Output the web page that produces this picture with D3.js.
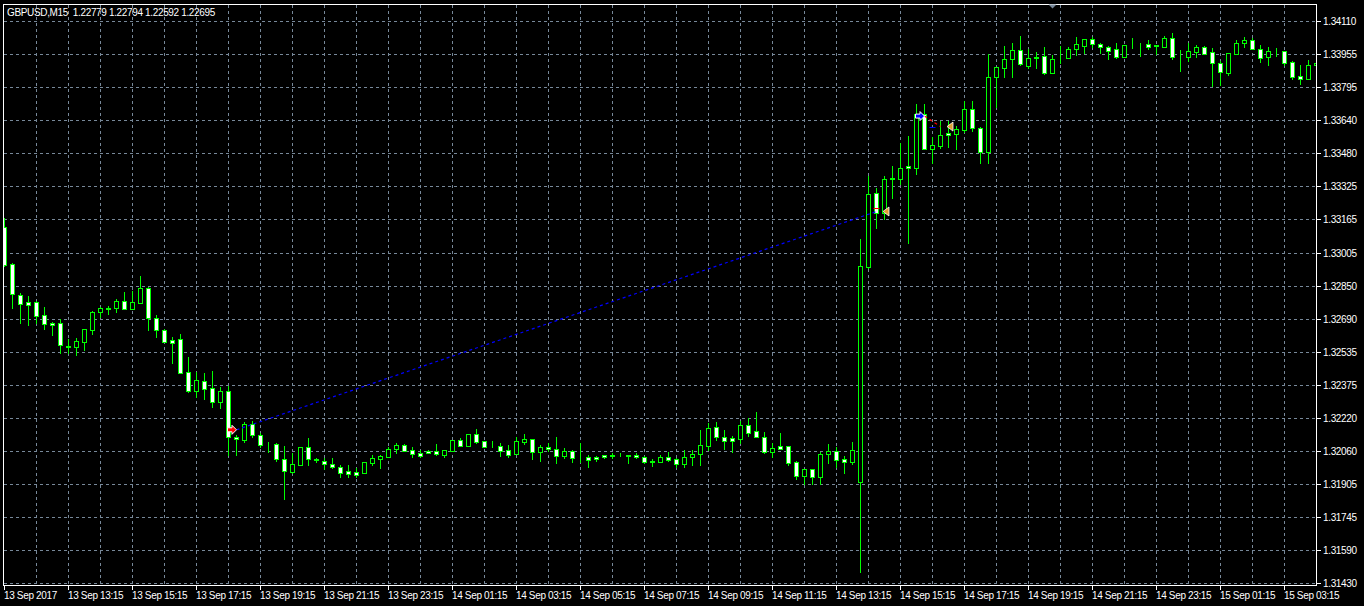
<!DOCTYPE html>
<html><head><meta charset="utf-8">
<script src="https://cdn.jsdelivr.net/npm/d3@7/dist/d3.min.js"></script>
<style>
html,body{margin:0;padding:0;background:#000;overflow:hidden}
svg{display:block}
text{font-family:"Liberation Sans",Arial,sans-serif;font-size:10px;letter-spacing:-0.35px;fill:#fff;white-space:pre}
</style>
</head><body>
<svg id="c" width="1364" height="606"></svg>
<script>
const chartTitle = "GBPUSD,M15  1.22779 1.22794 1.22592 1.22695";

const timeLabels = ["13 Sep 2017","13 Sep 13:15","13 Sep 15:15","13 Sep 17:15","13 Sep 19:15","13 Sep 21:15","13 Sep 23:15","14 Sep 01:15","14 Sep 03:15","14 Sep 05:15","14 Sep 07:15","14 Sep 09:15","14 Sep 11:15","14 Sep 13:15","14 Sep 15:15","14 Sep 17:15","14 Sep 19:15","14 Sep 21:15","14 Sep 23:15","15 Sep 01:15","15 Sep 03:15"];
const timeLabelBar = [0,8,16,24,32,40,48,56,64,72,80,88,96,104,112,120,128,136,144,152,160];

const priceTicks = [1.34110,1.33955,1.33795,1.33640,1.33480,1.33325,1.33165,1.33005,1.32850,1.32690,1.32535,1.32375,1.32220,1.32060,1.31905,1.31745,1.31590,1.31430];

const open = [1.33128,1.32951,1.32803,1.32771,1.32770,1.32708,1.32670,1.32670,1.32560,1.32555,
1.32582,1.32639,1.32722,1.32741,1.32744,1.32775,1.32739,1.32768,1.32838,1.32695,
1.32636,1.32590,1.32594,1.32438,1.32348,1.32395,1.32360,1.32296,1.32345,1.32126,
1.32113,1.32191,1.32136,1.32087,1.32093,1.32021,1.31962,1.31995,1.32078,1.32021,
1.32015,1.31997,1.31983,1.31964,1.31961,1.31957,1.32005,1.32024,1.32034,1.32069,
1.32088,1.32064,1.32050,1.32059,1.32059,1.32043,1.32061,1.32112,1.32086,1.32140,
1.32109,1.32091,1.32087,1.32066,1.32048,1.32105,1.32117,1.32057,1.32080,1.32069,
1.32038,1.32061,1.32031,1.32032,1.32034,1.32040,1.32040,1.32042,1.32040,1.32042,
1.32032,1.32010,1.32007,1.32031,1.32021,1.31997,1.32034,1.32045,1.32086,1.32174,
1.32129,1.32121,1.32118,1.32183,1.32155,1.32129,1.32057,1.32083,1.32083,1.32007,
1.31943,1.31976,1.31938,1.32045,1.32059,1.32022,1.32010,1.31912,1.32940,1.33290,
1.33194,1.33363,1.33359,1.33420,1.33412,1.33667,1.33502,1.33517,1.33576,1.33571,
1.33593,1.33690,1.33600,1.33488,1.33843,1.33886,1.33929,1.33972,1.33898,1.33940,
1.33945,1.33865,1.33936,1.33936,1.33977,1.33994,1.34024,1.34000,1.33986,1.33977,
1.33941,1.33997,1.33997,1.34000,1.33995,1.33989,1.34029,1.33941,1.33941,1.33965,
1.33986,1.33962,1.33910,1.33865,1.33954,1.34005,1.34021,1.33976,1.33938,1.33968,
1.33968,1.33915,1.33848,1.33833,1.33902];

const high = [1.33171,1.32956,1.32813,1.32800,1.32776,1.32749,1.32677,1.32689,1.32594,1.32598,
1.32641,1.32728,1.32749,1.32752,1.32787,1.32819,1.32822,1.32895,1.32843,1.32708,
1.32641,1.32603,1.32619,1.32508,1.32436,1.32433,1.32442,1.32365,1.32373,1.32137,
1.32198,1.32202,1.32147,1.32103,1.32098,1.32085,1.32050,1.32078,1.32121,1.32029,
1.32026,1.32026,1.31993,1.31994,1.31978,1.32008,1.32043,1.32043,1.32081,1.32098,
1.32094,1.32081,1.32066,1.32066,1.32094,1.32067,1.32113,1.32123,1.32140,1.32166,
1.32109,1.32109,1.32099,1.32088,1.32128,1.32143,1.32117,1.32089,1.32100,1.32129,
1.32075,1.32066,1.32098,1.32042,1.32037,1.32040,1.32050,1.32049,1.32044,1.32050,
1.32037,1.32021,1.32042,1.32055,1.32026,1.32066,1.32066,1.32161,1.32193,1.32199,
1.32161,1.32132,1.32202,1.32217,1.32247,1.32151,1.32098,1.32147,1.32083,1.32013,
1.31974,1.31976,1.32057,1.32093,1.32082,1.32037,1.32104,1.33070,1.33372,1.33317,
1.33372,1.33420,1.33528,1.33563,1.33716,1.33716,1.33560,1.33636,1.33634,1.33609,
1.33730,1.33730,1.33605,1.33954,1.33894,1.33994,1.34008,1.34040,1.33978,1.33962,
1.33986,1.33949,1.33994,1.33986,1.34034,1.34026,1.34034,1.34005,1.33994,1.34005,
1.33996,1.34029,1.34005,1.34021,1.33998,1.34040,1.34053,1.33973,1.34005,1.33997,
1.33990,1.33981,1.33922,1.33957,1.34021,1.34034,1.34029,1.33997,1.33986,1.33981,
1.33968,1.33921,1.33902,1.33926,1.33968];

const low = [1.32943,1.32744,1.32673,1.32663,1.32670,1.32644,1.32614,1.32530,1.32530,1.32520,
1.32542,1.32620,1.32698,1.32714,1.32724,1.32737,1.32737,1.32768,1.32638,1.32603,
1.32579,1.32482,1.32434,1.32344,1.32320,1.32309,1.32272,1.32267,1.32044,1.32044,
1.32104,1.32126,1.32078,1.32058,1.32015,1.31830,1.31958,1.31995,1.31995,1.32007,
1.31976,1.31978,1.31935,1.31938,1.31938,1.31957,1.31995,1.31981,1.32034,1.32053,
1.32059,1.32031,1.32031,1.32050,1.32040,1.32034,1.32061,1.32086,1.32086,1.32100,
1.32081,1.32081,1.32038,1.32032,1.32048,1.32096,1.32023,1.32013,1.32062,1.32005,
1.32029,1.32010,1.32010,1.31986,1.32013,1.32026,1.32026,1.32037,1.32005,1.32026,
1.32002,1.31991,1.32007,1.32013,1.31983,1.31986,1.31994,1.31994,1.32066,1.32113,
1.32070,1.32057,1.32098,1.32132,1.32129,1.32050,1.32034,1.32072,1.31994,1.31927,
1.31903,1.31903,1.31903,1.32005,1.31983,1.31957,1.31997,1.31485,1.32933,1.33123,
1.33166,1.33269,1.33333,1.33054,1.33382,1.33502,1.33436,1.33504,1.33509,1.33502,
1.33582,1.33588,1.33436,1.33436,1.33703,1.33846,1.33846,1.33900,1.33889,1.33889,
1.33857,1.33865,1.33910,1.33936,1.33949,1.33960,1.33986,1.33960,1.33929,1.33936,
1.33941,1.33981,1.33946,1.33978,1.33954,1.33989,1.33930,1.33874,1.33921,1.33941,
1.33953,1.33803,1.33806,1.33854,1.33954,1.33989,1.33976,1.33917,1.33902,1.33945,
1.33902,1.33833,1.33811,1.33833,1.33897];

const close = [1.32948,1.32808,1.32760,1.32759,1.32706,1.32666,1.32663,1.32565,1.32557,1.32584,
1.32641,1.32722,1.32741,1.32740,1.32776,1.32737,1.32770,1.32838,1.32694,1.32636,
1.32579,1.32577,1.32434,1.32348,1.32399,1.32358,1.32296,1.32347,1.32126,1.32117,
1.32188,1.32136,1.32088,1.32085,1.32021,1.31964,1.31997,1.32078,1.32021,1.32018,
1.31997,1.31986,1.31957,1.31951,1.31948,1.32008,1.32026,1.32036,1.32069,1.32088,
1.32062,1.32045,1.32038,1.32050,1.32045,1.32066,1.32113,1.32086,1.32140,1.32105,
1.32081,1.32089,1.32060,1.32044,1.32108,1.32118,1.32057,1.32080,1.32069,1.32038,
1.32061,1.32029,1.32030,1.32019,1.32021,1.32033,1.32039,1.32041,1.32039,1.32031,
1.32007,1.32011,1.32032,1.32019,1.31997,1.32031,1.32047,1.32088,1.32169,1.32129,
1.32110,1.32110,1.32183,1.32148,1.32129,1.32057,1.32074,1.32072,1.32005,1.31943,
1.31974,1.31938,1.32047,1.32059,1.32020,1.32010,1.32064,1.32943,1.33285,1.33194,
1.33357,1.33356,1.33410,1.33410,1.33667,1.33502,1.33519,1.33566,1.33566,1.33595,
1.33690,1.33600,1.33489,1.33843,1.33891,1.33929,1.33972,1.33905,1.33934,1.33933,
1.33865,1.33929,1.33937,1.33977,1.34000,1.34026,1.34000,1.33986,1.33970,1.33941,
1.33996,1.33996,1.33996,1.33989,1.33993,1.34029,1.33941,1.33942,1.33970,1.33986,
1.33953,1.33910,1.33867,1.33957,1.34005,1.34021,1.33976,1.33934,1.33968,1.33967,
1.33913,1.33846,1.33833,1.33902,1.33913];

// trade history objects: open bar / price, close bar / price
const tradeOpenBar = [29, 115];
const tradeOpenPrice = [1.32162, 1.33658];
const tradeCloseBar = [109, 117];
const tradeClosePrice = [1.33203, 1.33608];
const tradeLineColor = ["#0000ff", "#ff0000"];
const tradeArrowColor = ["#ff0000", "#0000ff"];
const levelMarkBar = [109, 116];
const levelMarkPrice = [1.33218, 1.33605];
const levelMarkColor = ["#ff0000", "#0000ff"];

const svg = d3.select("#c");
const W = 1364, H = 606;
const frame = {l: 3.5, t: 4.5, r: 1316.5, b: 585.5};
const n = open.length;

const x = d3.scaleLinear().domain([0, n - 1]).range([4.5, 4.5 + 8 * (n - 1)]);
const y = d3.scaleLinear().domain([1.31430, 1.34110]).range([583.3, 21.3]);
const py = v => Math.round(y(v)) + 0.5;
const px = i => Math.round(x(i) - 0.5) + 0.5;

svg.append("rect").attr("width", W).attr("height", H).attr("fill", "#000");

svg.append("defs").append("clipPath").attr("id", "plotclip")
  .append("rect").attr("x", frame.l).attr("y", frame.t)
  .attr("width", frame.r - frame.l).attr("height", frame.b - frame.t);

// grid
const grid = svg.append("g").attr("stroke", "#778899").attr("stroke-width", 1)
  .attr("stroke-dasharray", "3,3").attr("shape-rendering", "crispEdges");
grid.selectAll("line.h").data(priceTicks).join("line").attr("class", "h")
  .attr("x1", frame.l).attr("x2", frame.r)
  .attr("y1", d => py(d)).attr("y2", d => py(d));
grid.selectAll("line.v").data(d3.range(4, n, 4).filter(i => px(i) < frame.r)).join("line").attr("class", "v")
  .attr("x1", d => px(d)).attr("x2", d => px(d))
  .attr("y1", frame.t).attr("y2", frame.b);

// candles
const candles = svg.append("g").attr("clip-path", "url(#plotclip)").attr("shape-rendering", "crispEdges");
const idx = d3.range(n);
candles.selectAll("line.wick").data(idx).join("line").attr("class", "wick")
  .attr("x1", i => px(i)).attr("x2", i => px(i))
  .attr("y1", i => py(high[i]) - 0.5).attr("y2", i => py(low[i]) + 0.5)
  .attr("stroke", "#00ff00");
candles.selectAll("rect.body").data(idx).join("rect").attr("class", "body")
  .attr("x", i => px(i) - 2).attr("width", 4)
  .attr("y", i => Math.min(py(open[i]), py(close[i])))
  .attr("height", i => Math.abs(py(open[i]) - py(close[i])))
  .attr("fill", i => close[i] >= open[i] ? "#000" : "#fff")
  .attr("stroke", "#00ff00");

// trade objects
const trades = svg.append("g").attr("clip-path", "url(#plotclip)");
const tIdx = d3.range(tradeOpenBar.length);
trades.selectAll("line.tl").data(tIdx).join("line").attr("class", "tl")
  .attr("x1", i => x(tradeOpenBar[i])).attr("y1", i => y(tradeOpenPrice[i]))
  .attr("x2", i => x(tradeCloseBar[i])).attr("y2", i => y(tradeClosePrice[i]))
  .attr("stroke", i => tradeLineColor[i]).attr("stroke-width", 1.2)
  .attr("stroke-dasharray", "3,3");
trades.selectAll("line.lm").data(d3.range(levelMarkBar.length)).join("line").attr("class", "lm")
  .attr("x1", i => px(levelMarkBar[i]) - 3).attr("x2", i => px(levelMarkBar[i]) + 3)
  .attr("y1", i => py(levelMarkPrice[i])).attr("y2", i => py(levelMarkPrice[i]))
  .attr("stroke", i => levelMarkColor[i]).attr("stroke-width", 1.2);
// open arrows (tip at open bar)
trades.selectAll("path.oa").data(tIdx).join("path").attr("class", "oa")
  .attr("transform", i => `translate(${x(tradeOpenBar[i])},${y(tradeOpenPrice[i])})`)
  .attr("d", "M0,0 L-4.5,-4.5 L-4.5,-2 L-9,-2 L-9,2 L-4.5,2 L-4.5,4.5 Z")
  .attr("fill", i => tradeArrowColor[i]).attr("stroke", "#fff").attr("stroke-width", 1);
// close triangles (right of close bar)
trades.selectAll("path.ca").data(tIdx).join("path").attr("class", "ca")
  .attr("transform", i => `translate(${x(tradeCloseBar[i]) + 6.5},${y(tradeClosePrice[i])})`)
  .attr("d", "M0,0 L6,-4.5 L6,4.5 Z")
  .attr("fill", "#e0a030").attr("stroke", "#fff").attr("stroke-width", 0.8);

// frame
svg.append("rect").attr("x", frame.l).attr("y", frame.t)
  .attr("width", frame.r - frame.l).attr("height", frame.b - frame.t)
  .attr("fill", "none").attr("stroke", "#fff").attr("shape-rendering", "crispEdges");

// shift marker
svg.append("path").attr("d", "M1048.5,4.5 L1056.5,4.5 L1052.5,8.5 Z").attr("fill", "#778899");

// price axis
const pa = svg.append("g");
pa.selectAll("line").data(priceTicks).join("line")
  .attr("x1", frame.r).attr("x2", frame.r + 4)
  .attr("y1", d => py(d)).attr("y2", d => py(d))
  .attr("stroke", "#fff").attr("shape-rendering", "crispEdges");
pa.selectAll("text").data(priceTicks).join("text")
  .attr("x", frame.r + 6.5).attr("y", d => py(d))
  .attr("dy", "0.35em")
  .text(d => d3.format(".5f")(d));

// time axis
const ta = svg.append("g");
ta.selectAll("line").data(timeLabelBar).join("line")
  .attr("x1", d => px(d)).attr("x2", d => px(d))
  .attr("y1", frame.b).attr("y2", frame.b + 4)
  .attr("stroke", "#fff").attr("shape-rendering", "crispEdges");
ta.selectAll("text").data(timeLabelBar).join("text")
  .attr("x", d => px(d) - 0.5).attr("y", 599)
  .text((d, i) => timeLabels[i]);

// title
svg.append("text").attr("x", 7).attr("y", 16).attr("xml:space", "preserve").text(chartTitle);
</script>
</body></html>
